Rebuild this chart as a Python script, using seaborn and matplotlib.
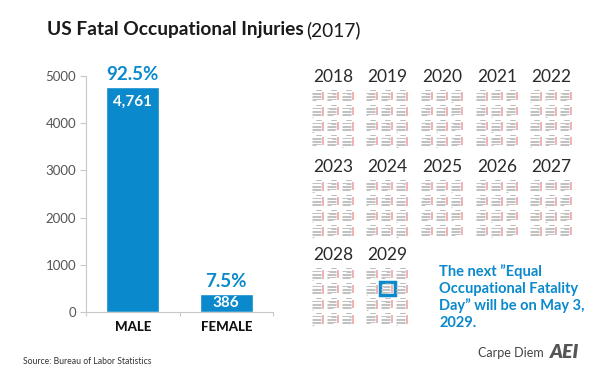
import calendar
import matplotlib.pyplot as plt
import matplotlib.patches as mpatches
import seaborn as sns
import pandas as pd

#---- Data ----#
sexes = ["MALE", "FEMALE"]
deaths = [4761, 386]
shares = ["92.5%", "7.5%"]
yticks = [0, 1000, 2000, 3000, 4000, 5000]
years = list(range(2018, 2030))
highlight_year = 2029
highlight_month = 5
note = "The next \u201dEqual\nOccupational Fatality\nDay\u201d will be on May 3,\n2029."

BLUE = "#0a89cc"

sns.set_theme(style="white")
plt.rcParams["font.family"] = ["Lato", "DejaVu Sans"]

W, H = 599, 375
fig = plt.figure(figsize=(W / 100, H / 100), dpi=100)

#---- Bar chart ----#
ax = fig.add_axes([86 / W, 63 / H, 187 / W, 236 / H])
df = pd.DataFrame({"sex": sexes, "deaths": deaths})
sns.barplot(data=df, x="sex", y="deaths", color=BLUE, saturation=1,
            width=0.57, ax=ax)

ax.set_ylim(0, 5000)
ax.set_xlim(-0.5, 1.5)
ax.set_yticks(yticks)
ax.set_xlabel("")
ax.set_ylabel("")
sns.despine(ax=ax)
for s in ["left", "bottom"]:
    ax.spines[s].set_color("#c8c8c8")
    ax.spines[s].set_linewidth(0.8)
ax.tick_params(axis="y", left=True, length=4, width=0.8, color="#c8c8c8",
               labelcolor="#555555", labelsize=9.5, pad=3)
# tick marks between the categories, labels drawn as text below
ax.set_xticks([-0.5, 0.5, 1.5], labels=["", "", ""])
ax.tick_params(axis="x", bottom=True, length=3, width=0.8, color="#c8c8c8")
for i, name in enumerate(sexes):
    ax.text(i, -0.062, name, transform=ax.get_xaxis_transform(),
            ha="center", va="center", fontsize=9.5, fontweight="black",
            color="#111111")

px_per_unit = 236 / 5000
for i, (v, s) in enumerate(zip(deaths, shares)):
    ax.annotate(s, xy=(i, v), xytext=(0, 3), textcoords="offset points",
                ha="center", va="bottom", fontsize=13.5, fontweight="bold",
                color=BLUE)
    drop = min(15, v * px_per_unit / 2) * 0.72
    ax.annotate(f"{v:,}", xy=(i, v), xytext=(0, -drop),
                textcoords="offset points", ha="center", va="center",
                fontsize=11, fontweight="bold", color="white")

#---- Calendars (overlay in pixel coordinates) ----#
ov = fig.add_axes([0, 0, 1, 1], facecolor="none")
ov.set_xlim(0, W)
ov.set_ylim(H, 0)
ov.axis("off")

col_x = [333, 387, 442, 497, 551]
row_y = [77, 167, 255]
cal = calendar.Calendar(firstweekday=0)
step = 1.75
wy, wx0, wx1 = [], [], []
sx, sy = [], []
for k, yr in enumerate(years):
    cx, ty = col_x[k % 5], row_y[k // 5]
    ov.text(cx, ty, str(yr), ha="center", va="center", fontsize=12.5,
            color="#2a2a2a")
    left, top = cx - 21, ty + 13
    for m in range(1, 13):
        r, c = divmod(m - 1, 3)
        mx, my = left + c * 15, top + r * 15
        ov.plot([mx + 4, mx + 8.5], [my, my], color="#a0a0a0", lw=0.5)
        wy.append(my + 2.6)
        wx0.append(mx)
        wx1.append(mx + 5 * step)
        sx.append(mx + 6 * step)
        sy.append(my + 2.6)
        for w, week in enumerate(cal.monthdayscalendar(yr, m)):
            days = [d for d, day in enumerate(week) if day]
            y = my + 4.2 + w * 1.5
            wy.append(y)
            wx0.append(mx + days[0] * step)
            wx1.append(mx + min(days[-1], 5) * step + 0.6)
            if days[-1] == 6:
                sx.append(mx + 6 * step)
                sy.append(y)
        if yr == highlight_year and m == highlight_month:
            ov.add_patch(mpatches.Rectangle((mx - 1.5, my - 1.5), 15, 13.5,
                                            fill=False, edgecolor=BLUE,
                                            lw=2.5))
ov.hlines(wy, wx0, wx1, colors="#c2c2c2", lw=0.75)
ov.scatter(sx, sy, s=0.9, c="#f0b4b4", marker="s", linewidths=0)

ov.text(439, 264, note, ha="left", va="top", fontsize=10.5,
        fontweight="bold", color=BLUE, linespacing=1.25)

#---- Title and footer ----#
t1 = ov.text(47, 30, "US Fatal Occupational Injuries", ha="left",
             va="center", fontsize=13.8, fontweight="bold", color="#1a1a1a")
fig.canvas.draw()
bb = t1.get_window_extent()
ov.text(bb.x1 + 2, 30, "(2017)", ha="left", va="center", fontsize=13.8,
        color="#1a1a1a")

ov.text(23, 361, "Source: Bureau of Labor Statistics", ha="left",
        va="center", fontsize=6.2, color="#333333")
ov.text(478, 353, "Carpe Diem", ha="left", va="center", fontsize=9,
        color="#444444")
ov.text(550, 353, "AEI", ha="left", va="center", fontsize=14,
        fontweight="heavy", fontstyle="italic", color="#555555")

fig.savefig("out.png", dpi=100)
